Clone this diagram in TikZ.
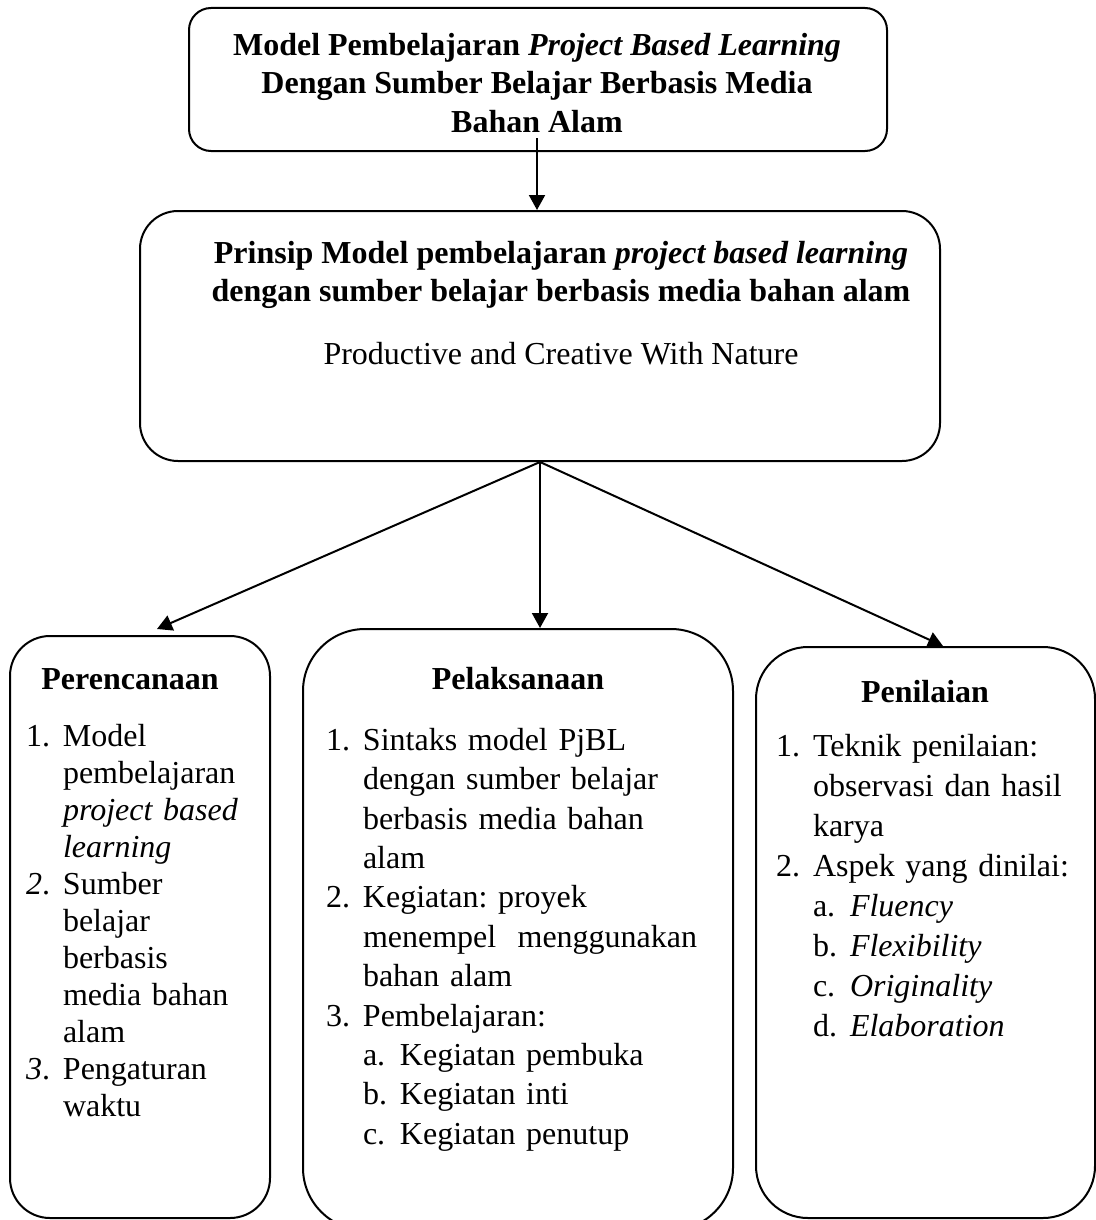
\documentclass[tikz,border=0pt]{standalone}
\usepackage{fontspec}
\setmainfont{Liberation Serif}
\usepackage{tikz}
\usetikzlibrary{arrows.meta,positioning,calc}
\tikzset{
    every picture/.style={line width=1pt},
    % Box and flow styles
    roundbox/.style={draw=black,line width=1pt,inner sep=0pt,fill=white},
    flowarrow/.style={-{Triangle[length=7.5pt,width=8pt]},line width=1pt,black}
}
\frenchspacing
% numbered lines with hanging indent
\newcommand{\numitem}[2]{\noindent\hangindent=18.5pt\hangafter=1\makebox[18.5pt][l]{#1}#2\par}
\newcommand{\subnum}[2]{\noindent\hspace*{18.5pt}\makebox[18.5pt][l]{#1}#2\par}

\begin{document}
\begin{tikzpicture}[x=0.5pt,y=-0.5pt,
    titletext/.style={font=\fontsize{16}{19}\selectfont,align=center,inner sep=0pt,anchor=north},
    boxhead/.style={font=\fontsize{16}{16}\selectfont\bfseries,inner sep=0pt,anchor=base},
    itemlist/.style={inner sep=0pt,anchor=north west,text width=200pt,align=left}
]
\useasboundingbox (0,0) rectangle (1096,1220);

% Top and principle boxes
\node[roundbox,rounded corners=11pt,minimum width=349pt,minimum height=71.5pt] at (538,79.5) (top_box) {};
\node[titletext,font=\fontsize{16}{19.25}\selectfont\bfseries] at (537,32) (top_text) {Model Pembelajaran \textit{Project Based Learning}\\Dengan Sumber Belajar Berbasis Media\\Bahan Alam};

\node[roundbox,rounded corners=19pt,minimum width=400pt,minimum height=125pt] at (540,336) (main_box) {};
\node[titletext] at (561,240) (main_text) {\textbf{Prinsip Model pembelajaran \textit{project based learning}}\\\textbf{dengan sumber belajar berbasis media bahan alam}\\[12.5pt]Productive and Creative With Nature};

% Three lower boxes
\node[roundbox,rounded corners=20pt,minimum width=130pt,minimum height=291pt] at (140,927) (plan_box) {};
\node[roundbox,rounded corners=31pt,minimum width=215pt,minimum height=300.5pt] at (518,929.5) (exec_box) {};
\node[roundbox,rounded corners=26pt,minimum width=169.5pt,minimum height=285.5pt] at (925.5,932.5) (eval_box) {};

% Arrows
\coordinate (top_out) at (537,138);
\draw[flowarrow] (top_out) -- (top_out |- main_box.north);
\draw[flowarrow] (main_box.south) -- ([xshift=8.5pt,yshift=3pt]plan_box.north);
\draw[flowarrow] (main_box.south) -- (main_box.south |- exec_box.north);
\draw[flowarrow] (main_box.south) -- ([xshift=8.75pt]eval_box.north);

% Perencanaan
\node[boxhead] at (130,689) (plan_head) {Perencanaan};
\node[itemlist,font=\fontsize{16}{18.5}\selectfont] at (25,723) (plan_list) {%
\numitem{1.}{Model\newline pembelajaran\newline \textit{project based}\newline \textit{learning}}%
\numitem{\textit{2}.}{Sumber\newline belajar\newline berbasis\newline media bahan\newline alam}%
\numitem{\textit{3}.}{Pengaturan\newline waktu}};

% Pelaksanaan
\node[boxhead] at (518,689) (exec_head) {Pelaksanaan};
\node[itemlist,font=\fontsize{16}{19.7}\selectfont] at (325,727) (exec_list) {%
\numitem{1.}{Sintaks model PjBL\newline dengan sumber belajar\newline berbasis media bahan\newline alam}%
\numitem{2.}{Kegiatan: proyek\newline menempel\ \ menggunakan\newline bahan alam}%
\numitem{3.}{Pembelajaran:}%
\subnum{a.}{Kegiatan pembuka}%
\subnum{b.}{Kegiatan inti}%
\subnum{c.}{Kegiatan penutup}};

% Penilaian
\node[boxhead] at (925,702) (eval_head) {Penilaian};
\node[itemlist,font=\fontsize{16}{20}\selectfont] at (775,733) (eval_list) {%
\numitem{1.}{Teknik penilaian:\newline observasi dan hasil\newline karya}%
\numitem{2.}{Aspek yang dinilai:}%
\subnum{a.}{\textit{Fluency}}%
\subnum{b.}{\textit{Flexibility}}%
\subnum{c.}{\textit{Originality}}%
\subnum{d.}{\textit{Elaboration}}};

\end{tikzpicture}
\end{document}
